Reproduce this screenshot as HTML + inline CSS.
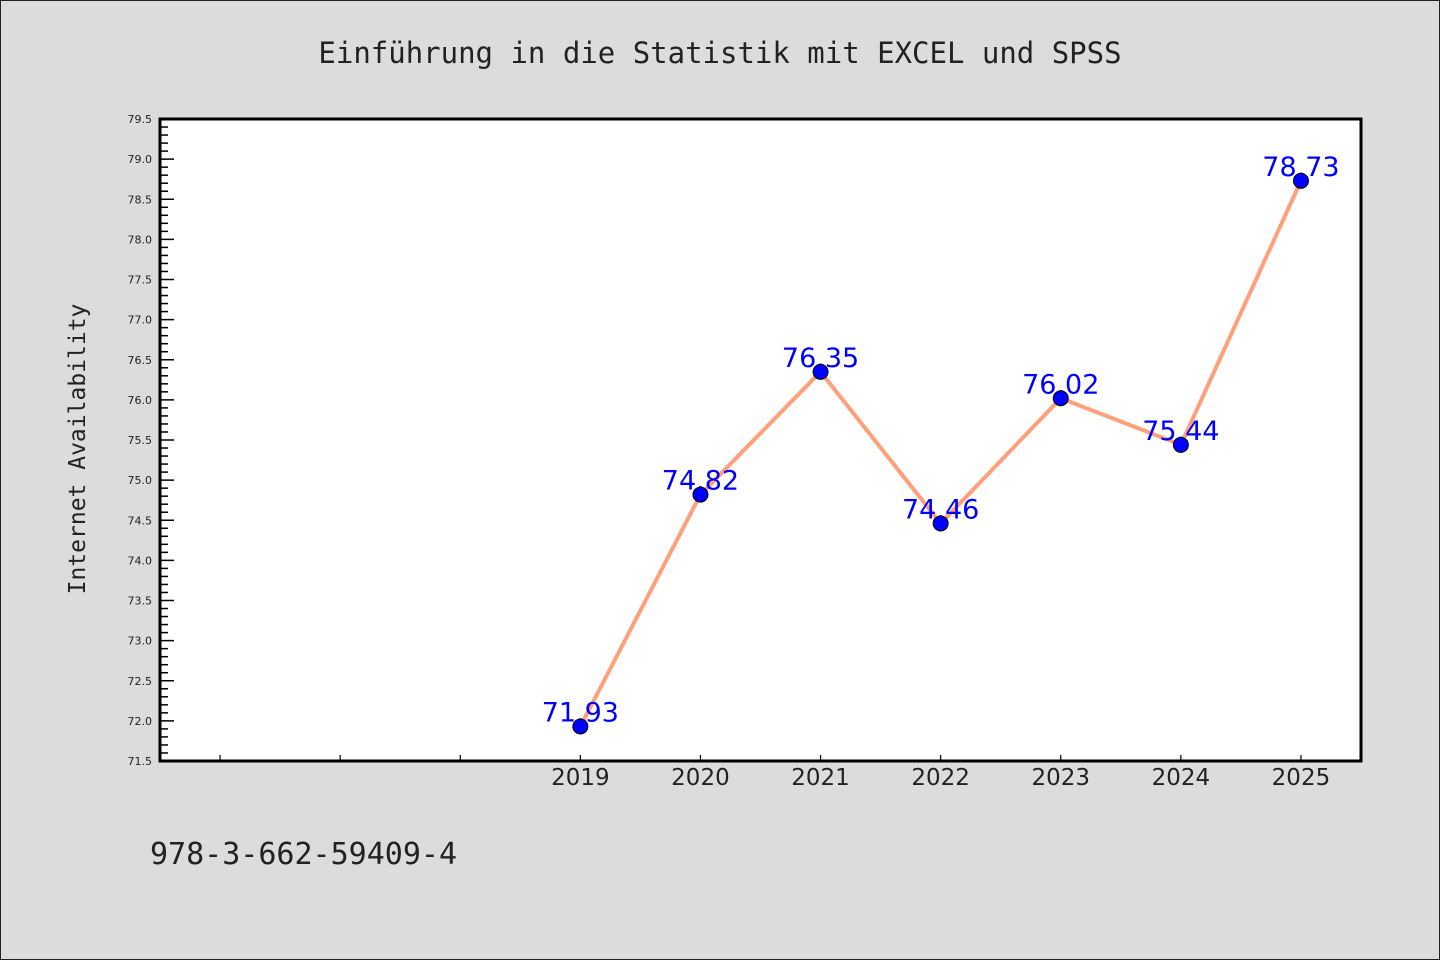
<!DOCTYPE html>
<html><head><meta charset="utf-8"><style>
html,body{margin:0;padding:0;background:#dcdcdc;}
svg{display:block;}
</style></head><body>
<svg id="chart" width="1440" height="960" xmlns="http://www.w3.org/2000/svg">
<rect x="0.5" y="0.5" width="1439" height="959" fill="#dcdcdc" stroke="#222" stroke-width="1"/>
<text x="720" y="63" text-anchor="middle" font-family="'DejaVu Sans Mono','Liberation Mono',monospace" font-size="29" fill="#222">Einführung in die Statistik mit EXCEL und SPSS</text>
<rect x="160" y="119" width="1201" height="642" fill="#fff"/>
<g id="axes"></g>
<g id="marks"></g>
<rect x="160" y="119" width="1201" height="642" fill="none" stroke="#000" stroke-width="3"/>
<text transform="translate(85,449) rotate(-90)" text-anchor="middle" font-family="'DejaVu Sans Mono','Liberation Mono',monospace" font-size="23" fill="#222">Internet Availability</text>
<text x="150" y="864" font-family="'DejaVu Sans Mono','Liberation Mono',monospace" font-size="30" fill="#222">978-3-662-59409-4</text>
</svg>
<script>
const years = [2019, 2020, 2021, 2022, 2023, 2024, 2025];
const values = [71.93, 74.82, 76.35, 74.46, 76.02, 75.44, 78.73];
const valueLabels = ["71.93", "74.82", "76.35", "74.46", "76.02", "75.44", "78.73"];
const yTickLabels = ["71.5","72.0","72.5","73.0","73.5","74.0","74.5","75.0","75.5","76.0","76.5","77.0","77.5","78.0","78.5","79.0","79.5"];
const xTicks = [2016, 2017, 2018, 2019, 2020, 2021, 2022, 2023, 2024, 2025];

const NS = "http://www.w3.org/2000/svg";
const L = 160, R = 1361, T = 119, B = 761;
const xMin = 2015.5, xMax = 2025.5, yMin = 71.5, yMax = 79.5;
function xs(v){ return L + (v - xMin) / (xMax - xMin) * (R - L); }
function ys(v){ return B - (v - yMin) / (yMax - yMin) * (B - T); }
function mk(tag, attrs, parent){ const e = document.createElementNS(NS, tag); for (const k in attrs) e.setAttribute(k, attrs[k]); parent.appendChild(e); return e; }

const axes = document.getElementById('axes');
const marks = document.getElementById('marks');

// y minor ticks every 0.1
for (let i = 0; i <= 80; i++) {
  const v = yMin + i * 0.1;
  const major = i % 5 === 0;
  const t = mk('line', {x1: L, x2: L + (major ? 14 : 8), y1: ys(v), y2: ys(v), stroke: '#000', 'stroke-width': 1.5}, axes);
  
  
}
yTickLabels.forEach(s => {
  const t = mk('text', {x: 152, y: ys(parseFloat(s)) + 4, 'text-anchor': 'end', 'font-family': "'DejaVu Sans','Liberation Sans',sans-serif", 'font-size': 11, fill: '#222'}, axes);
  t.textContent = s;
  
  
});
xTicks.forEach(v => {
  const t = mk('line', {x1: xs(v), x2: xs(v), y1: B, y2: B - 6, stroke: '#000', 'stroke-width': 1.2}, axes);
  
  
});
years.forEach(v => {
  const t = mk('text', {x: xs(v), y: 785, 'text-anchor': 'middle', 'font-family': "'DejaVu Sans','Liberation Sans',sans-serif", 'font-size': 23, fill: '#222'}, axes);
  t.textContent = String(v);
  
  
});

const pts = years.map((y, i) => xs(y) + ',' + ys(values[i])).join(' ');
const line = mk('polyline', {points: pts, fill: 'none', stroke: '#ffa07a', 'stroke-width': 4, 'stroke-linejoin': 'round'}, marks);



years.forEach((y, i) => {
  const t = mk('text', {x: xs(y), y: ys(values[i]) - 5, 'text-anchor': 'middle', 'font-family': "'DejaVu Sans','Liberation Sans',sans-serif", 'font-size': 27, fill: '#0000ff'}, marks);
  t.textContent = valueLabels[i];
  
  
});
years.forEach((y, i) => {
  const c = mk('circle', {cx: xs(y), cy: ys(values[i]), r: 7.5, fill: '#0000ff', stroke: '#000', 'stroke-width': 1}, marks);
  
  
});
</script>
</body></html>
